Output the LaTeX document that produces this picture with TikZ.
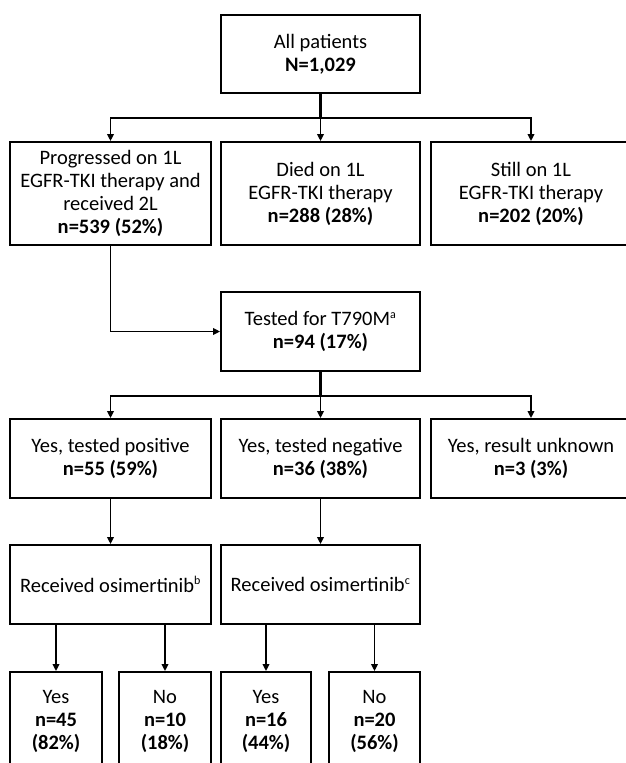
\documentclass[tikz,border=0pt]{standalone}
\usepackage{fontspec}
\setmainfont{Carlito}
\usetikzlibrary{arrows.meta}
\tikzset{
  fbox/.style={draw, line width=1.8pt, align=center, inner sep=0pt,
    font=\fontsize{20.5}{23}\selectfont},
  arr/.style={line width=1.8pt, -{Triangle[width=6.5pt,length=7pt]}},
  trunk/.style={line width=2.8pt}
}
\newcommand{\supmark}[1]{\textsuperscript{\fontsize{12}{12}\selectfont #1}}
\begin{document}
\begin{tikzpicture}[x=1pt,y=-1pt]
\useasboundingbox (0,0) rectangle (625,763);
% row 1
\node[fbox, minimum width=199pt, minimum height=78pt] (top) at (320.5,54) {All patients\\\textbf{N=1,029}};
% row 2
\node[fbox, minimum width=201pt, minimum height=103pt] (A) at (110.5,193.5) {Progressed on 1L\\EGFR-TKI therapy and\\received 2L\\\textbf{n=539 (52\%)}};
\node[fbox, minimum width=199pt, minimum height=103pt] (B) at (320.5,193.5) {Died on 1L\\EGFR-TKI therapy\\\textbf{n=288 (28\%)}};
\node[fbox, minimum width=200pt, minimum height=103pt] (C) at (531,193.5) {Still on 1L\\EGFR-TKI therapy\\\textbf{n=202 (20\%)}};
% row 3
\node[fbox, minimum width=199pt, minimum height=79pt] (T) at (320.5,331.5) {Tested for T790M\supmark{a}\\\textbf{n=94 (17\%)}};
% row 4
\node[fbox, minimum width=201pt, minimum height=79pt] (D) at (110.5,458.5) {Yes, tested positive\\\textbf{n=55 (59\%)}};
\node[fbox, minimum width=199pt, minimum height=79pt] (E) at (320.5,458.5) {Yes, tested negative\\\textbf{n=36 (38\%)}};
\node[fbox, minimum width=200pt, minimum height=79pt] (F) at (531,458.5) {Yes, result unknown\\\textbf{n=3 (3\%)}};
% row 5
\node[fbox, minimum width=201pt, minimum height=79pt] (R1) at (110.5,584.5) {Received osimertinib\supmark{b}};
\node[fbox, minimum width=199pt, minimum height=79pt] (R2) at (320.5,584.5) {Received osimertinib\supmark{c}};
% row 6
\node[fbox, minimum width=92pt, minimum height=98pt] (Y1) at (56,721) {Yes\\\textbf{n=45}\\\textbf{(82\%)}};
\node[fbox, minimum width=92pt, minimum height=98pt] (N1) at (165,721) {No\\\textbf{n=10}\\\textbf{(18\%)}};
\node[fbox, minimum width=90pt, minimum height=98pt] (Y2) at (266,721) {Yes\\\textbf{n=16}\\\textbf{(44\%)}};
\node[fbox, minimum width=91pt, minimum height=98pt] (N2) at (374.5,721) {No\\\textbf{n=20}\\\textbf{(56\%)}};
% junctions
\coordinate (j1) at (320.5,118);
\coordinate (j2) at (320.5,396);
% connectors
\draw[trunk] (top.south) -- (j1);
\draw[arr] (j1) -| (A.north);
\draw[arr] (j1) -- (B.north);
\draw[arr] (j1) -| (C.north);
\draw[arr] (A.south) |- (T.west);
\draw[trunk] (T.south) -- (j2);
\draw[arr] (j2) -| (D.north);
\draw[arr] (j2) -- (E.north);
\draw[arr] (j2) -| (F.north);
\draw[arr] (D.south) -- (R1.north);
\draw[arr] (E.south) -- (R2.north);
\draw[arr] (R1.south -| Y1.north) -- (Y1.north);
\draw[arr] (R1.south -| N1.north) -- (N1.north);
\draw[arr] (R2.south -| Y2.north) -- (Y2.north);
\draw[arr] (R2.south -| N2.north) -- (N2.north);
\end{tikzpicture}
\end{document}
